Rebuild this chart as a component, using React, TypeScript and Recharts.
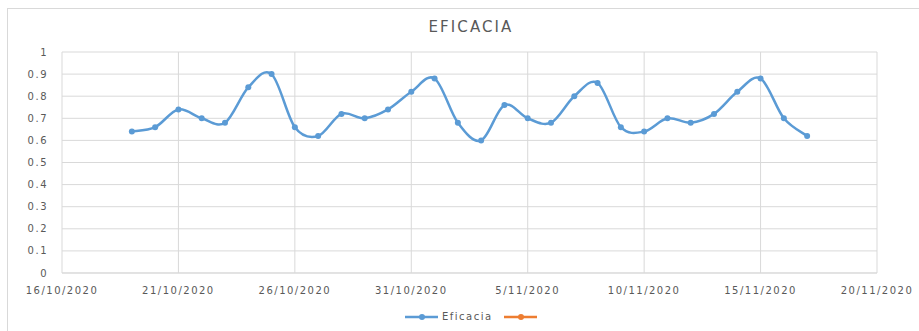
import { LineChart, Line, XAxis, YAxis, CartesianGrid, Legend } from "recharts";

const fechas = [
  "19/10/2020", "20/10/2020", "21/10/2020", "22/10/2020", "23/10/2020",
  "24/10/2020", "25/10/2020", "26/10/2020", "27/10/2020", "28/10/2020",
  "29/10/2020", "30/10/2020", "31/10/2020", "1/11/2020", "2/11/2020",
  "3/11/2020", "4/11/2020", "5/11/2020", "6/11/2020", "7/11/2020",
  "8/11/2020", "9/11/2020", "10/11/2020", "11/11/2020", "12/11/2020",
  "13/11/2020", "14/11/2020", "15/11/2020", "16/11/2020", "17/11/2020",
];

const eficacia = [
  0.64, 0.66, 0.74, 0.7, 0.68, 0.84, 0.9, 0.66, 0.62, 0.72,
  0.7, 0.74, 0.82, 0.88, 0.68, 0.6, 0.76, 0.7, 0.68, 0.8,
  0.86, 0.66, 0.64, 0.7, 0.68, 0.72, 0.82, 0.88, 0.7, 0.62,
];

const xTickLabels = [
  "16/10/2020", "21/10/2020", "26/10/2020", "31/10/2020",
  "5/11/2020", "10/11/2020", "15/11/2020", "20/11/2020",
];

const yTicks = [0, 0.1, 0.2, 0.3, 0.4, 0.5, 0.6, 0.7, 0.8, 0.9, 1];

const BLUE = "#5b9bd5";
const ORANGE = "#ed7d31";
const GRID = "#d9d9d9";
const TEXT = "#595959";
const FONT = "'DejaVu Sans', sans-serif";

function parseFecha(s: string): number {
  const [d, m, y] = s.split("/").map(Number);
  return Date.UTC(y, m - 1, d);
}

function formatFecha(t: number): string {
  const d = new Date(t);
  return `${d.getUTCDate()}/${d.getUTCMonth() + 1}/${d.getUTCFullYear()}`;
}

// Excel-style smoothed line (Catmull-Rom through every point)
function excelCurve(context: any) {
  let pts: [number, number][] = [];
  return {
    areaStart() {},
    areaEnd() {},
    lineStart() {
      pts = [];
    },
    point(x: number, y: number) {
      pts.push([+x, +y]);
    },
    lineEnd() {
      if (!pts.length) return;
      context.moveTo(pts[0][0], pts[0][1]);
      for (let i = 0; i < pts.length - 1; i++) {
        const p0 = pts[i - 1] || pts[i];
        const p1 = pts[i];
        const p2 = pts[i + 1];
        const p3 = pts[i + 2] || p2;
        context.bezierCurveTo(
          p1[0] + (p2[0] - p0[0]) / 6,
          p1[1] + (p2[1] - p0[1]) / 6,
          p2[0] - (p3[0] - p1[0]) / 6,
          p2[1] - (p3[1] - p1[1]) / 6,
          p2[0],
          p2[1]
        );
      }
    },
  };
}

const data = fechas.map((f, i) => ({
  fecha: parseFecha(f),
  eficacia: eficacia[i],
  serie2: null as number | null,
}));

const xTicks = xTickLabels.map(parseFecha);

function LegendMark({ color }: { color: string }) {
  return (
    <svg width={33} height={8} style={{ display: "block" }}>
      <line x1={0} y1={4} x2={33} y2={4} stroke={color} strokeWidth={2.5} />
      <circle cx={17} cy={4} r={3} fill={color} />
    </svg>
  );
}

function ChartLegend() {
  return (
    <div
      style={{
        display: "flex",
        alignItems: "center",
        fontFamily: FONT,
        fontSize: 10,
        letterSpacing: 1.5,
        color: TEXT,
      }}
    >
      <LegendMark color={BLUE} />
      <span style={{ marginLeft: 4, marginRight: 11 }}>Eficacia</span>
      <LegendMark color={ORANGE} />
    </div>
  );
}

const tickStyle = { fontSize: 10, fill: TEXT, fontFamily: FONT, letterSpacing: 1.5 };

export default function App() {
  return (
    <div
      style={{
        position: "fixed",
        left: 0,
        top: 0,
        width: 919,
        height: 331,
        overflow: "hidden",
        background: "#fff",
      }}
    >
      <div
        style={{
          position: "absolute",
          left: 7,
          top: 8,
          width: 1000,
          height: 400,
          borderLeft: `1px solid ${GRID}`,
          borderTop: `1px solid ${GRID}`,
        }}
      />
      <div
        style={{
          position: "absolute",
          left: 0,
          top: 20,
          width: 942,
          textAlign: "center",
          fontFamily: FONT,
          fontSize: 15,
          lineHeight: "15px",
          letterSpacing: 2.1,
          color: TEXT,
        }}
      >
        EFICACIA
      </div>
      <div style={{ position: "absolute", left: 0, top: 0 }}>
        <LineChart
          width={919}
          height={331}
          data={data}
          margin={{ top: 52, right: 42, bottom: 28, left: 12 }}
        >
          <CartesianGrid stroke={GRID} strokeWidth={1} />
          <XAxis
            dataKey="fecha"
            type="number"
            domain={[xTicks[0], xTicks[xTicks.length - 1]]}
            ticks={xTicks}
            tickFormatter={formatFecha}
            interval={0}
            height={30}
            tick={tickStyle}
            tickLine={false}
            tickMargin={8}
            axisLine={{ stroke: GRID }}
          />
          <YAxis
            type="number"
            domain={[0, 1]}
            ticks={yTicks}
            tickFormatter={(v: number) => (v === 0 || v === 1 ? String(v) : v.toFixed(1))}
            interval={0}
            width={50}
            tick={tickStyle}
            tickLine={false}
            tickMargin={8}
            axisLine={false}
          />
          <Legend
            verticalAlign="middle"
            layout="horizontal"
            align="center"
            content={() => <ChartLegend />}
            wrapperStyle={{ left: 405, top: 311, width: 200 }}
          />
          <Line
            dataKey="eficacia"
            name="Eficacia"
            type={excelCurve as any}
            stroke={BLUE}
            strokeWidth={2.5}
            dot={{ r: 3, fill: BLUE, stroke: BLUE, strokeWidth: 0 }}
            activeDot={false}
            isAnimationActive={false}
          />
          <Line
            dataKey="serie2"
            name=" "
            stroke={ORANGE}
            strokeWidth={2.5}
            dot={{ r: 3, fill: ORANGE }}
            isAnimationActive={false}
          />
        </LineChart>
      </div>
    </div>
  );
}
